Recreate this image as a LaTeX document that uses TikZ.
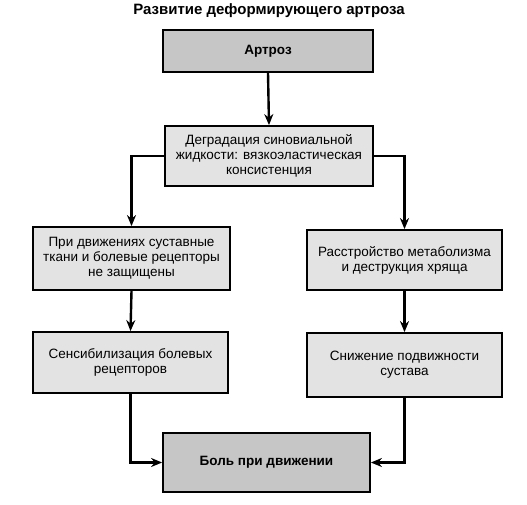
\documentclass[tikz,border=0pt]{standalone}
\usepackage{fontspec}
\setmainfont{Liberation Sans}
\usetikzlibrary{arrows.meta}
\begin{document}
\begin{tikzpicture}[x=1pt,y=-1pt,
  box/.style={draw=black, line width=1.8pt, align=center, inner sep=0pt,
    font=\fontsize{13.5}{15}\selectfont},
  dark/.style={box, fill=gray!45},
  light/.style={box, fill=gray!22},
  arr/.style={line width=2.4pt, -{Stealth[length=11pt,width=9pt]}}]
\useasboundingbox (0,0) rectangle (527,505);
\node[font=\bfseries\fontsize{15}{18}\selectfont] (title) at (269,11) {Развитие деформирующего артроза};
\node[dark, minimum width=210, minimum height=42, font=\bfseries\fontsize{13.5}{15}\selectfont] (art) at (268,51) {Артроз};
\node[light, minimum width=208, minimum height=60] (deg) at (269,156) {Деградация синовиальной\\жидкости: вязкоэластическая\\консистенция};
\node[light, minimum width=197, minimum height=63] (l1) at (131.5,258.5) {При движениях суставные\\ткани и болевые рецепторы\\не защищены};
\node[light, minimum width=195, minimum height=60] (r1) at (404.5,260) {Расстройство метаболизма\\и деструкция хряща};
\node[light, minimum width=195, minimum height=61] (l2) at (130.5,362.5) {Сенсибилизация болевых\\рецепторов};
\node[light, minimum width=195, minimum height=64] (r2) at (404.5,365) {Снижение подвижности\\сустава};
\node[dark, minimum width=207, minimum height=59, font=\bfseries\fontsize{13.5}{15}\selectfont] (pain) at (266.5,462.5) {Боль при движении};
\draw[arr] (art.south) -- (deg.north);
\draw[arr] (deg.west) -| (l1.north);
\draw[arr] (deg.east) -| (r1.north);
\draw[arr] (l1.south) -- (l2.north);
\draw[arr] (r1.south) -- (r2.north);
\draw[arr] (l2.south) |- (pain.west);
\draw[arr] (r2.south) |- (pain.east);
\end{tikzpicture}
\end{document}
